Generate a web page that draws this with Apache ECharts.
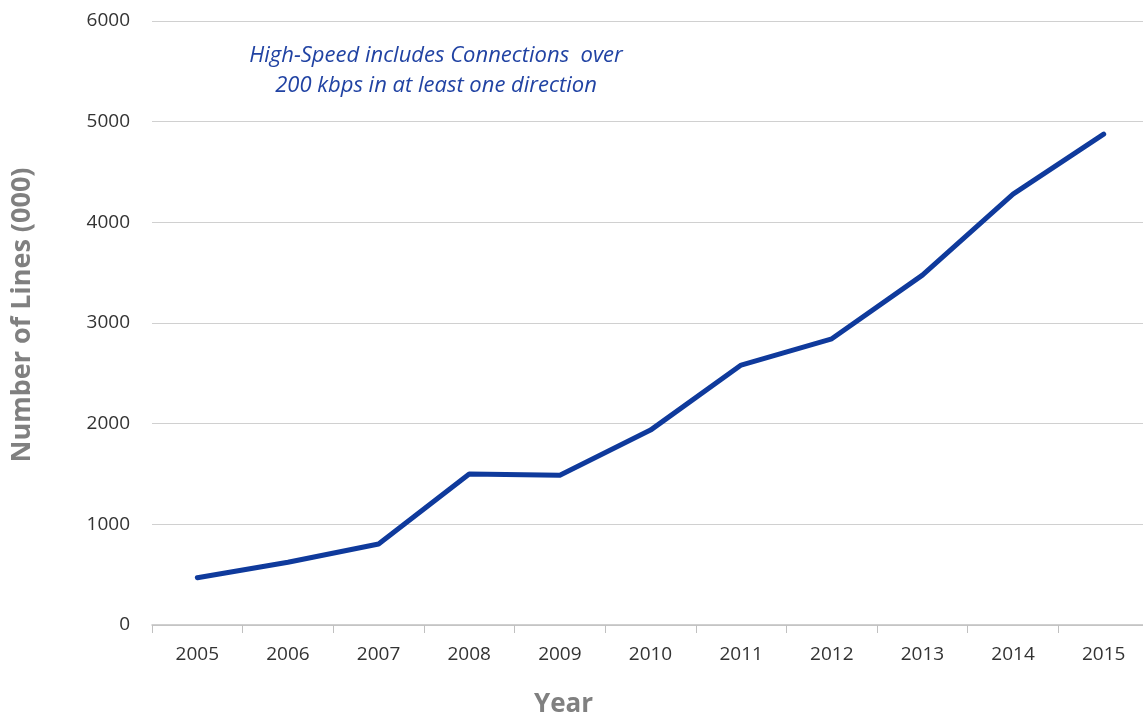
<!DOCTYPE html>
<html>
<head>
<meta charset="utf-8">
<script src="https://cdn.jsdelivr.net/npm/echarts@6/dist/echarts.min.js"></script>
<style>html,body{margin:0;padding:0;background:#fff;overflow:hidden}#c{width:1143px;height:719px}</style>
</head>
<body>
<div id="c"></div>
<script>
const years = ['2005','2006','2007','2008','2009','2010','2011','2012','2013','2014','2015'];
const lines = [470, 623, 804, 1500, 1487, 1936, 2582, 2843, 3476, 4280, 4876];
const yTicks = [0, 1000, 2000, 3000, 4000, 5000, 6000];
const note = 'High-Speed includes Connections  over\n200 kbps in at least one direction';

const chart = echarts.init(document.getElementById('c'));
const font = '"Open Sans", "Noto Sans", sans-serif';
chart.setOption({
  animation: false,
  backgroundColor: '#fff',
  title: {
    text: note,
    left: 431, top: 36,
    textAlign: 'center',
    textStyle: { fontFamily: font, fontStyle: 'italic', fontWeight: 'normal', fontSize: 22, color: '#2143a3', lineHeight: 30, align: 'center' }
  },
  grid: { left: 152, right: -6, top: 21, bottom: 94, containLabel: false, outerBoundsMode: 'none' },
  xAxis: {
    type: 'category',
    data: years,
    boundaryGap: true,
    name: 'Year',
    nameLocation: 'middle',
    nameGap: 67,
    nameTextStyle: { fontFamily: font, fontWeight: 'bold', fontSize: 26, color: '#808080', padding: [0, 174, 0, 0] },
    axisLine: { lineStyle: { color: '#c0c0c0', width: 1.5 } },
    axisTick: { show: true, length: 8, lineStyle: { color: '#c0c0c0' } },
    axisLabel: { fontFamily: font, fontSize: 19, color: '#333', margin: 20 }
  },
  yAxis: {
    type: 'value',
    min: yTicks[0], max: yTicks[yTicks.length - 1], interval: 1000,
    name: 'Number of Lines (000)',
    nameLocation: 'middle',
    nameGap: 116,
    nameTextStyle: { fontFamily: font, fontWeight: 'bold', fontSize: 27, color: '#808080', padding: [0, 0, 0, 16] },
    axisLine: { show: false },
    axisTick: { show: false },
    axisLabel: { fontFamily: font, fontSize: 19, color: '#333', margin: 22, formatter: v => String(v) },
    splitLine: { lineStyle: { color: '#d0d0d0', width: 1.2 } }
  },
  series: [{
    type: 'line',
    data: lines,
    symbol: 'none',
    lineStyle: { color: '#0f3a9c', width: 5, cap: 'round', join: 'round' }
  }]
});
</script>
</body>
</html>
